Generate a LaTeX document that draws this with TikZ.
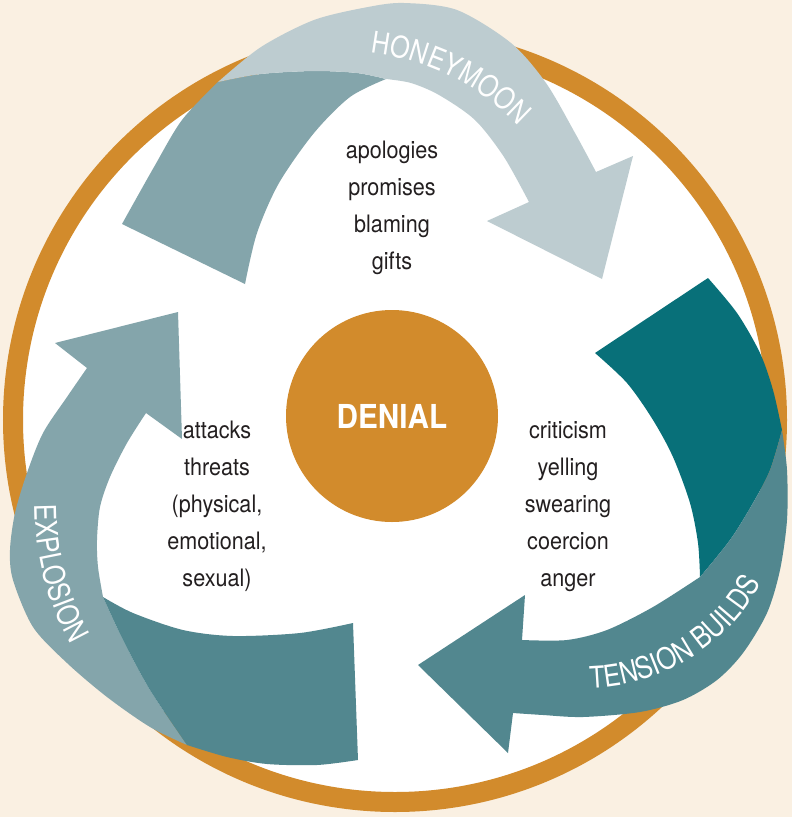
\documentclass[tikz,border=0pt]{standalone}
\usepackage{fontspec}
\setmainfont{TeX Gyre Heros}[FakeStretch=0.9]
\newfontfamily\bandfamily{TeX Gyre Heros}[FakeStretch=0.84]
\usetikzlibrary{decorations.text}
\definecolor{bgcream}{HTML}{FAF0E2}
\definecolor{ringorange}{HTML}{D28B2C}
\definecolor{honeyblue}{HTML}{BDCCD0}
\definecolor{explosionblue}{HTML}{84A5AB}
\definecolor{tensionblue}{HTML}{52878F}
\definecolor{tealdark}{HTML}{087079}
\definecolor{listgrey}{HTML}{231F20}
\newcommand\bandfont{\bandfamily\fontsize{30}{30}\selectfont\color{white}}
\begin{document}
\begin{tikzpicture}[x=1pt, y=-1pt,
    steplist/.style={align=center, text=listgrey, font=\fontsize{24}{37}\selectfont},
    bandlabel/.style={decorate, decoration={text along path, text align=center, text={|\bandfont|#1}}}]
  \fill[bgcream] (0,0) rectangle (792,817);
  \draw[ringorange, line width=20pt, fill=white] (395,420) circle[radius=382];
  \node[circle, fill=ringorange, minimum size=212pt, inner sep=0pt, text=white,
    font=\fontsize{33}{33}\selectfont\bfseries] (denial) at (392,416) {DENIAL};
  % honeymoon
  \fill[explosionblue] (122,224) -- plot[smooth] coordinates {(122,224) (154,167) (182,120) (218,82)}
    -- plot[smooth] coordinates {(218,82) (261,74) (314,71) (357,73) (386,79)}
    -- plot[smooth] coordinates {(386,79) (350,97) (314,133) (279,183) (257,233) (245,284)} -- cycle;
  \fill[honeyblue] (218,82)
    -- plot[smooth] coordinates {(218,82) (261,47) (314,20) (368,7) (404,3) (457,10) (511,43) (546,83) (575,133) (596,172)}
    -- (633,156) -- (602,279) -- (487,221) -- (529,202)
    -- plot[smooth] coordinates {(529,202) (504,157) (475,120) (439,95) (411,83) (386,79)}
    -- plot[smooth] coordinates {(386,79) (357,73) (314,71) (261,74) (218,82)} -- cycle;
  % tension builds
  \fill[tealdark] (595,353) -- (708,278)
    -- plot[smooth] coordinates {(708,278) (737,313) (760,353) (773,390) (782,430)}
    -- plot[smooth] coordinates {(782,430) (770,470) (753,503) (730,540) (700,577)}
    -- plot[smooth] coordinates {(700,577) (698,543) (690,503) (673,457) (653,420) (627,383) (595,353)} -- cycle;
  \fill[tensionblue] (782,430)
    -- plot[smooth] coordinates {(782,430) (787,470) (787,520) (780,570) (767,613) (743,653) (717,680) (683,700) (640,712) (583,717) (543,715) (513,713)}
    -- (508,753) -- (418,665) -- (525,595) -- (522,640)
    -- plot[smooth] coordinates {(522,640) (567,640) (607,630) (653,607) (700,577)}
    -- plot[smooth] coordinates {(700,577) (730,540) (753,503) (770,470) (782,430)} -- cycle;
  % explosion
  \fill[explosionblue] (178,312) -- (55,343) -- (87,368)
    -- plot[smooth] coordinates {(87,368) (67,397) (43,433) (27,473) (15,513) (10,550) (13,580) (33,627) (67,663) (107,697) (150,727) (187,745)}
    -- plot[smooth] coordinates {(187,745) (150,690) (123,640) (103,597)}
    -- plot[smooth] coordinates {(103,597) (98,567) (97,540) (100,507) (110,477) (127,443) (146,413)}
    -- (182,439) -- cycle;
  \fill[tensionblue] (103,597)
    -- plot[smooth] coordinates {(103,597) (133,613) (183,630) (233,636) (300,633) (353,623)}
    -- (358,760)
    -- plot[smooth] coordinates {(358,760) (317,765) (267,764) (227,757) (187,745)}
    -- plot[smooth] coordinates {(187,745) (150,690) (123,640) (103,597)} -- cycle;
  \path[bandlabel=HONEYMOON] (342,296) ++(-103.6:245) arc (-103.6:-23.6:245);
  \path[bandlabel=TENSION BUILDS] (585,487) ++(98.6:201) arc (98.6:18.6:201);
  \path[bandlabel=EXPLOSION] (318,506) ++(195.5:283) arc (195.5:135.5:283);
  \node[steplist] (honeylist) at (392,208) {apologies\\promises\\blaming\\gifts};
  \node[steplist] (tensionlist) at (568,507) {criticism\\yelling\\swearing\\coercion\\anger};
  \node[steplist] (explosionlist) at (217,506) {attacks\\threats\\(physical,\\emotional,\\sexual)};
\end{tikzpicture}
\end{document}
